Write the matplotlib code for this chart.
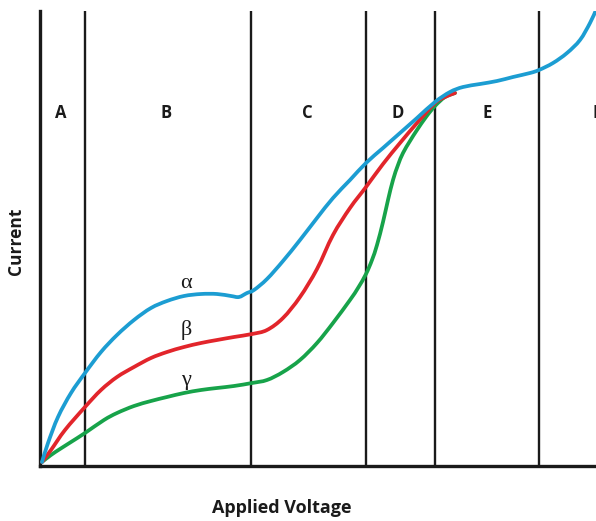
import matplotlib
matplotlib.use("Agg")
from matplotlib import pyplot as plt
from matplotlib.path import Path
from matplotlib.patches import PathPatch

# readings (arbitrary units, voltage -> right, current -> up)
alpha_v = [2, 8, 18, 31, 45, 61, 77, 94, 111, 127, 144, 161, 177, 191, 199, 207,
           214, 227, 243, 260, 277, 293, 310, 326, 343, 360, 377, 395, 410, 423,
           440, 457, 473, 490, 499, 513, 527, 540, 550, 556]
alpha_i = [4, 23, 49, 73, 93, 114, 131, 146, 158, 165, 170, 172, 172, 170, 169, 173,
           176, 187, 205, 226, 248, 268, 286, 303, 318, 333, 348, 364, 374, 379,
           382, 385, 389, 393, 396, 403, 413, 426, 443, 456]

beta_v = [2, 11, 25, 45, 61, 77, 94, 111, 127, 144, 161, 177, 194, 212, 227, 243,
          260, 277, 293, 310, 326, 343, 360, 377, 395, 405, 415]
beta_i = [4, 16, 36, 59, 76, 89, 99, 108, 114, 119, 123, 126, 129, 132, 136, 148,
          169, 197, 231, 258, 279, 302, 323, 343, 363, 369, 373]

gamma_v = [2, 11, 20, 31, 45, 64, 77, 94, 111, 127, 144, 161, 177, 194, 212, 227,
           243, 260, 277, 293, 310, 318, 326, 332, 337, 343, 348, 353, 358, 363,
           370, 377, 386, 395, 405, 415]
gamma_i = [4, 11, 17, 24, 33, 46, 53, 60, 65, 69, 73, 76, 78, 80, 83, 86,
           94, 106, 123, 143, 166, 178, 192, 206, 221, 244, 266, 286, 301, 313,
           325, 336, 349, 360, 369, 373]

# region boundaries and names
bounds = [45, 211, 326, 395, 499]
regions = ['A', 'B', 'C', 'D', 'E', 'F']
region_x = [21, 126, 267, 358, 447, 552]


def smooth_curve(ax, xs, ys, color):
    # draw a smooth curve through the read points (catmull-rom as bezier)
    pts = list(zip(xs, ys))
    verts = [pts[0]]
    codes = [Path.MOVETO]
    n = len(pts)
    for i in range(n - 1):
        p0 = pts[i - 1] if i > 0 else pts[i]
        p1 = pts[i]
        p2 = pts[i + 1]
        p3 = pts[i + 2] if i + 2 < n else pts[i + 1]
        c1 = (p1[0] + (p2[0] - p0[0]) / 6, p1[1] + (p2[1] - p0[1]) / 6)
        c2 = (p2[0] - (p3[0] - p1[0]) / 6, p2[1] - (p3[1] - p1[1]) / 6)
        verts += [c1, c2, p2]
        codes += [Path.CURVE4] * 3
    patch = PathPatch(Path(verts, codes), facecolor='none', edgecolor=color,
                      lw=2.7, capstyle='round', joinstyle='round', zorder=4)
    ax.add_patch(patch)


fig = plt.figure(figsize=(5.96, 5.21), dpi=100)
ax = fig.add_axes([40 / 596, 55 / 521, 556 / 596, 455 / 521])
ax.set_xlim(0, 556)
ax.set_ylim(0, 455)

for b in bounds:
    ax.axvline(b, color='#1a1a1a', lw=1.7, zorder=1)

smooth_curve(ax, gamma_v, gamma_i, '#17a34a')
smooth_curve(ax, beta_v, beta_i, '#e2252b')
smooth_curve(ax, alpha_v, alpha_i, '#1c9dd2')

for name, x in zip(regions, region_x):
    ax.text(x, 353, name, ha='left' if name == 'F' else 'center', va='center',
            fontsize=12, fontweight='bold', family='Open Sans', color='#1a1a1a',
            clip_on=False)

greek = ['α', 'β', 'γ']
greek_y = [183, 136, 86]
for g, y in zip(greek, greek_y):
    ax.text(146, y, g, ha='center', va='center', fontsize=16,
            family='Liberation Serif', color='#1a1a1a')

ax.spines['top'].set_visible(False)
ax.spines['right'].set_visible(False)
ax.spines['left'].set_linewidth(2.4)
ax.spines['bottom'].set_linewidth(2.4)
ax.spines['left'].set_color('#1a1a1a')
ax.spines['bottom'].set_color('#1a1a1a')
ax.set_xticks([])
ax.set_yticks([])

fig.text(282 / 596, 1 - 508 / 521, 'Applied Voltage', ha='center', va='center',
         fontsize=13, fontweight='bold', family='Open Sans', color='#1a1a1a')
fig.text(16 / 596, 1 - 241 / 521, 'Current', ha='center', va='center', rotation=90,
         fontsize=12.5, fontweight='bold', family='Open Sans', color='#1a1a1a')

fig.savefig('out.png', dpi=100)
